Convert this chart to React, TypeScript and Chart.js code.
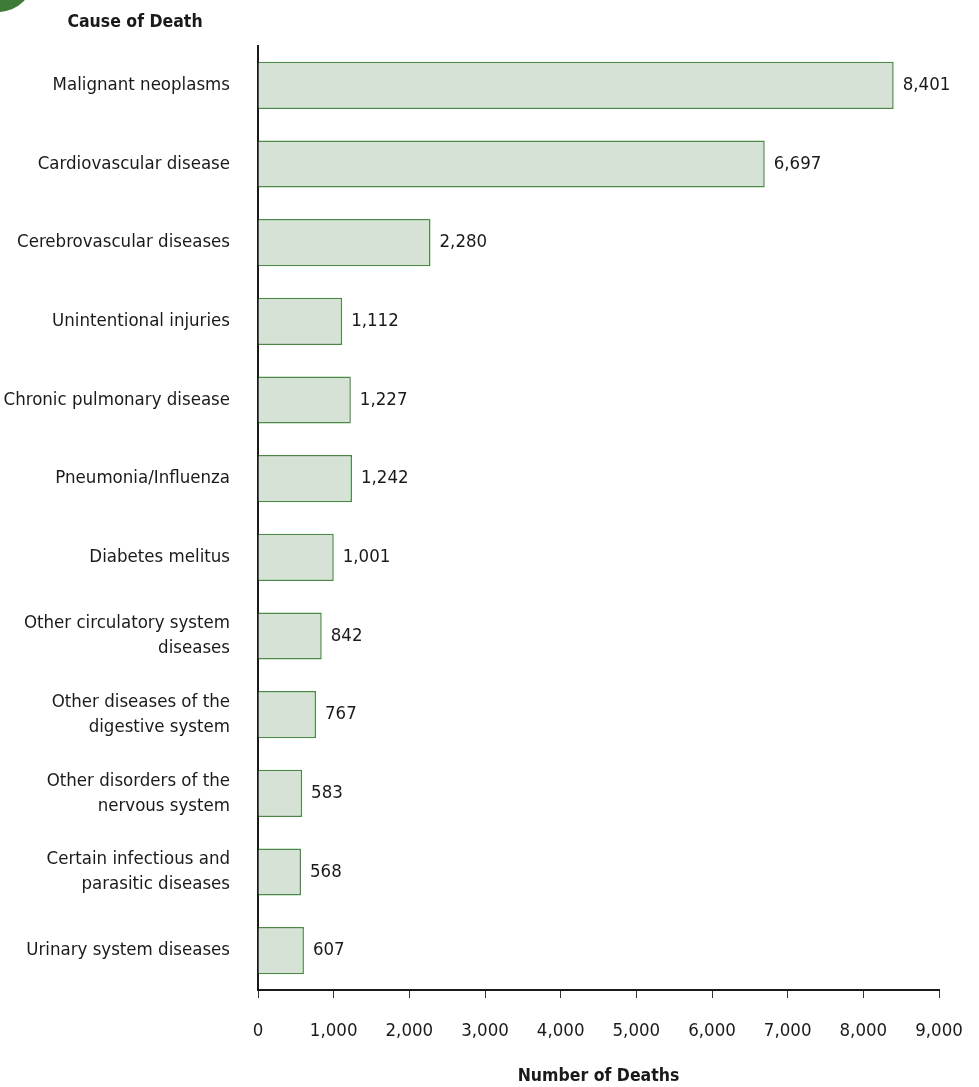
import React, { useEffect, useRef } from "react";
import { Chart, registerables } from "chart.js";

Chart.register(...registerables);

const categories: (string | string[])[] = [
  "Malignant neoplasms",
  "Cardiovascular disease",
  "Cerebrovascular diseases",
  "Unintentional injuries",
  "Chronic pulmonary disease",
  "Pneumonia/Influenza",
  "Diabetes melitus",
  ["Other circulatory system", "diseases"],
  ["Other diseases of the", "digestive system"],
  ["Other disorders of the", "nervous system"],
  ["Certain infectious and", "parasitic diseases"],
  "Urinary system diseases",
];
const deaths: number[] = [8401, 6697, 2280, 1112, 1227, 1242, 1001, 842, 767, 583, 568, 607];
const xTicks: number[] = [0, 1000, 2000, 3000, 4000, 5000, 6000, 7000, 8000, 9000];
const yTitle = "Cause of Death";
const xTitle = "Number of Deaths";

const FONT = "'DejaVu Sans Condensed', 'Liberation Sans Narrow', 'Roboto', sans-serif";
const fmt = (v: number) => v.toLocaleString("en-US");

export default function App() {
  const ref = useRef<HTMLCanvasElement | null>(null);
  useEffect(() => {
    if (!ref.current) return;
    const extras = {
      id: "extras",
      afterDraw(chart: any) {
        const ctx = chart.ctx;
        ctx.save();
        ctx.fillStyle = "#3e7b37";
        ctx.beginPath();
        ctx.arc(-2, -24, 36, 0, Math.PI * 2);
        ctx.fill();
        ctx.fillStyle = "#1a1a1a";
        ctx.font = `bold 17.5px ${FONT}`;
        ctx.textAlign = "center";
        ctx.textBaseline = "middle";
        ctx.fillText(yTitle, 135, 22);
        ctx.font = `18.5px ${FONT}`;
        ctx.textAlign = "left";
        const meta = chart.getDatasetMeta(0);
        meta.data.forEach((bar: any, i: number) => {
          ctx.fillText(fmt(deaths[i]), bar.x + 9, bar.y);
        });
        ctx.restore();
      },
    };
    const chart = new Chart(ref.current, {
      type: "bar",
      data: {
        labels: categories,
        datasets: [
          {
            data: deaths,
            backgroundColor: "#d6e2d6",
            borderColor: "#4a8a45",
            borderWidth: 1.5,
            barPercentage: 0.6,
            categoryPercentage: 1,
          },
        ],
      },
      options: {
        indexAxis: "y",
        animation: false,
        responsive: false,
        maintainAspectRatio: false,
        layout: { padding: { top: 46, right: 40, left: 0, bottom: 0 } },
        plugins: { legend: { display: false }, tooltip: { enabled: false } },
        scales: {
          x: {
            min: 0,
            max: 9000,
            afterBuildTicks: (s: any) => {
              s.ticks = xTicks.map((v) => ({ value: v }));
            },
            afterFit: (s: any) => {
              s.height = 1087 - 990;
              s.paddingLeft = 0;
              s.paddingRight = 0;
            },
            grid: { display: true, drawOnChartArea: false, drawTicks: true, tickLength: 8, color: "#333", lineWidth: 1 },
            border: { display: true, color: "#1a1a1a", width: 2 },
            ticks: {
              padding: 22,
              color: "#1a1a1a",
              font: { family: FONT, size: 18.5 },
              callback: (v: any) => fmt(Number(v)),
              maxRotation: 0,
              autoSkip: false,
            },
            title: {
              display: true,
              text: xTitle,
              color: "#1a1a1a",
              font: { family: FONT, size: 17.5, weight: "bold" },
              padding: { top: 12, bottom: 0 },
            },
          },
          y: {
            afterFit: (s: any) => {
              s.width = 258;
            },
            grid: { display: false },
            border: { display: true, color: "#1a1a1a", width: 2 },
            ticks: {
              padding: 20,
              color: "#1a1a1a",
              font: { family: FONT, size: 18.5, lineHeight: 1.35 },
              autoSkip: false,
            },
          },
        },
      },
      plugins: [extras],
    } as any);
    return () => chart.destroy();
  }, []);
  return (
    <div style={{ position: "fixed", left: 0, top: 0, width: 979, height: 1087, background: "#fff" }}>
      <canvas ref={ref} width={979} height={1087} style={{ width: 979, height: 1087 }} />
    </div>
  );
}
